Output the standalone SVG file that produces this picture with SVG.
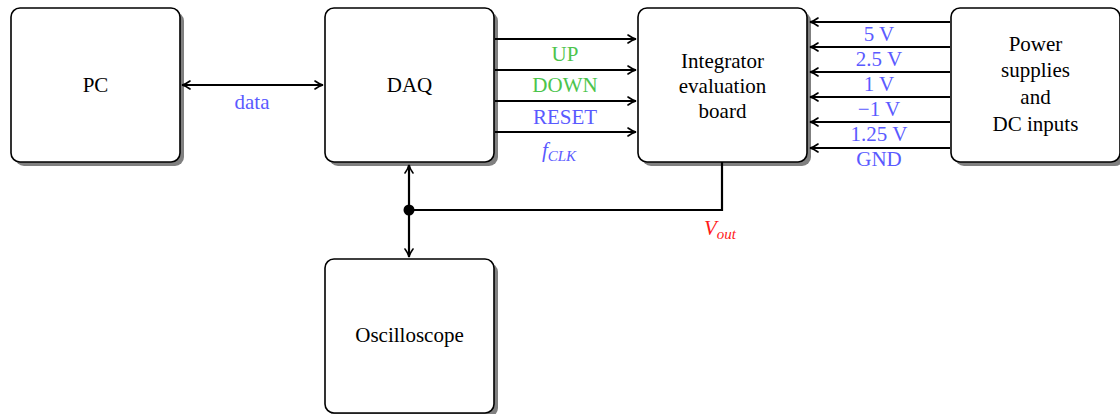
<svg xmlns="http://www.w3.org/2000/svg" width="1120" height="414" viewBox="0 0 1120 414">
<defs>
<marker id="ah" viewBox="0 0 10 10" refX="9" refY="5" markerWidth="10" markerHeight="10" markerUnits="userSpaceOnUse" orient="auto-start-reverse">
<path d="M1,1 Q5,4 9,5 Q5,6 1,9" fill="none" stroke="#000" stroke-width="1.6" stroke-linecap="round"/>
</marker>
</defs>
<style>
.sh{fill:#808080}
.box{fill:#fff;stroke:#000;stroke-width:1.6}
.t{font-family:"Liberation Serif","Times New Roman",serif;font-size:21px;fill:#000;text-anchor:middle}
.g{fill:#4cc44c}
.b{fill:#5a5aff}
.r{fill:#ff1a1a}
.w{stroke:#000;stroke-width:2.2;fill:none}
.a{stroke:#000;stroke-width:2.2;fill:none;marker-end:url(#ah)}
.ab{stroke:#000;stroke-width:2.2;fill:none;marker-end:url(#ah);marker-start:url(#ah)}
</style>
<g id="pc">
<rect class="sh" x="15" y="12" width="169" height="154" rx="9"/>
<rect class="box" x="11" y="8" width="169" height="154" rx="9"/>
<text class="t" x="95.5" y="92">PC</text>
</g>
<g id="daq">
<rect class="sh" x="329" y="12" width="169" height="154" rx="9"/>
<rect class="box" x="325" y="8" width="169" height="154" rx="9"/>
<text class="t" x="409.5" y="92">DAQ</text>
</g>
<g id="integrator">
<rect class="sh" x="642" y="12" width="169" height="154" rx="9"/>
<rect class="box" x="638" y="8" width="169" height="154" rx="9"/>
<text class="t" x="722.5" y="68">Integrator</text>
<text class="t" x="722.5" y="93">evaluation</text>
<text class="t" x="722.5" y="118">board</text>
</g>
<g id="power">
<rect class="sh" x="955" y="12" width="169" height="154" rx="9"/>
<rect class="box" x="951" y="8" width="169" height="154" rx="9"/>
<text class="t" x="1035.5" y="51">Power</text>
<text class="t" x="1035.5" y="77">supplies</text>
<text class="t" x="1035.5" y="104">and</text>
<text class="t" x="1035.5" y="131">DC inputs</text>
</g>
<g id="oscilloscope">
<rect class="sh" x="329" y="263" width="169" height="154" rx="9"/>
<rect class="box" x="325" y="259" width="169" height="154" rx="9"/>
<text class="t" x="409.5" y="342">Oscilloscope</text>
</g>
<g id="connectors">
<line class="ab" x1="182" y1="85" x2="323" y2="85"/>
<line class="a" x1="495" y1="39" x2="636" y2="39"/>
<line class="a" x1="495" y1="70" x2="636" y2="70"/>
<line class="a" x1="495" y1="101" x2="636" y2="101"/>
<line class="a" x1="495" y1="132" x2="636" y2="132"/>
<line class="a" x1="950" y1="22" x2="810" y2="22"/>
<line class="a" x1="950" y1="47" x2="810" y2="47"/>
<line class="a" x1="950" y1="72" x2="810" y2="72"/>
<line class="a" x1="950" y1="97" x2="810" y2="97"/>
<line class="a" x1="950" y1="122" x2="810" y2="122"/>
<line class="a" x1="950" y1="148" x2="810" y2="148"/>
<line class="ab" x1="409" y1="165" x2="409" y2="257"/>
<polyline class="w" points="409,210 722,210 722,162"/>
<circle cx="409" cy="210" r="5.5" fill="#000"/>
</g>
<g id="labels">
<text class="t b" x="252" y="109">data</text>
<text class="t g" x="565" y="61">UP</text>
<text class="t g" x="565" y="92">DOWN</text>
<text class="t b" x="565" y="124">RESET</text>
<text class="t b" x="559" y="157" font-style="italic">f<tspan font-size="15" dy="4">CLK</tspan></text>
<text class="t b" x="879" y="41">5 V</text>
<text class="t b" x="879" y="66">2.5 V</text>
<text class="t b" x="879" y="91">1 V</text>
<text class="t b" x="879" y="116">−1 V</text>
<text class="t b" x="879" y="141">1.25 V</text>
<text class="t b" x="879" y="166">GND</text>
<text class="t r" x="720" y="235" font-style="italic">V<tspan font-size="15" dy="4">out</tspan></text>
</g>
</svg>
